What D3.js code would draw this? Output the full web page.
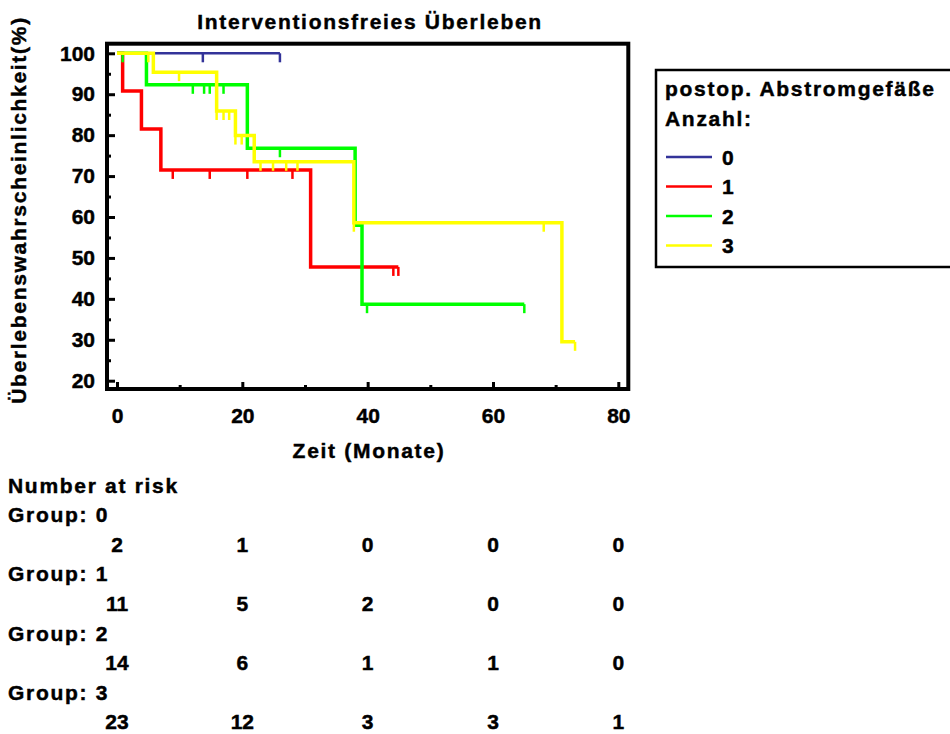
<!DOCTYPE html>
<html>
<head>
<meta charset="utf-8">
<script src="https://cdn.jsdelivr.net/npm/d3@7"></script>
<style>
  body { margin: 0; background: #fff; }
  svg text { font-family: "Liberation Sans", Arial, sans-serif; font-weight: bold; font-size: 21px; letter-spacing: 1.7px; fill: #000; stroke: #000; stroke-width: 0.45px; }
  svg text.num { letter-spacing: 0px; }
</style>
</head>
<body>
<div id="grafKM"></div>
<script>
// Datos de cada grupo (tiempo en meses, supervivencia en %)
const grupos = ['0', '1', '2', '3']
const colores = ['#333399', '#ff0000', '#00ff00', '#ffff00']

const tiempo0 = [0, 26.0]
const surv0   = [100, 100]
const cens0   = [13.7, 26.0]

const tiempo1 = [0, 0.9, 3.9, 7.0, 30.9, 44.9]
const surv1   = [100, 90.8, 81.5, 71.5, 47.8, 47.8]
const cens1   = [8.9, 14.8, 20.8, 28.0, 44.1, 44.9]

const tiempo2 = [0, 4.7, 20.8, 38.0, 39.1, 65.0]
const surv2   = [100, 92.3, 76.8, 58.0, 38.7, 38.7]
const cens2   = [0.9, 12.1, 13.9, 14.8, 17.0, 26.0, 39.9, 65.0]

const tiempo3 = [0, 5.8, 15.9, 18.9, 21.9, 37.8, 71.0, 73.1]
const surv3   = [100, 95.4, 85.9, 79.9, 73.5, 58.6, 29.5, 29.5]
const cens3   = [5.0, 9.9, 15.9, 17.0, 17.9, 18.9, 19.9, 22.9, 24.9, 27.0, 28.8, 37.8, 68.1, 73.1]

// Tabla "Number at risk"
const tiemposRiesgo = [0, 20, 40, 60, 80]
const riesgo0 = [2, 1, 0, 0, 0]
const riesgo1 = [11, 5, 2, 0, 0]
const riesgo2 = [14, 6, 1, 1, 0]
const riesgo3 = [23, 12, 3, 3, 1]

const ticksX = [0, 20, 40, 60, 80]
const ticksY = [20, 30, 40, 50, 60, 70, 80, 90, 100]

const series = [
  { tiempo: tiempo0, surv: surv0, cens: cens0, riesgo: riesgo0 },
  { tiempo: tiempo1, surv: surv1, cens: cens1, riesgo: riesgo1 },
  { tiempo: tiempo2, surv: surv2, cens: cens2, riesgo: riesgo2 },
  { tiempo: tiempo3, surv: surv3, cens: cens3, riesgo: riesgo3 }
]

const ancho = 950, alto = 734
const svg = d3.select('#grafKM').append('svg')
  .attr('width', ancho).attr('height', alto)

// Marco del grafico
const marco = { izq: 107, sup: 43.7, der: 628.3, inf: 389 }

const x = d3.scaleLinear().domain([0, 80]).range([117, 618.3])
const y = d3.scaleLinear().domain([20, 100]).range([380.7, 53.3])

// Ejes con ticks hacia adentro
svg.append('g')
  .attr('transform', `translate(${marco.izq},0)`)
  .call(d3.axisLeft(y).tickValues(ticksY).tickSizeInner(-8).tickSizeOuter(0).tickPadding(12))
  .call(g => g.select('.domain').remove())
  .call(g => g.selectAll('line').attr('stroke', '#000').attr('stroke-width', 3))
  .call(g => g.selectAll('text').attr('class', 'num'))

svg.append('g')
  .attr('transform', `translate(${marco.izq},0)`)
  .call(d3.axisLeft(y).tickValues(d3.range(25, 100, 10)).tickSizeInner(-4).tickSizeOuter(0).tickFormat(''))
  .call(g => g.select('.domain').remove())
  .call(g => g.selectAll('line').attr('stroke', '#000').attr('stroke-width', 3))

svg.append('g')
  .attr('transform', `translate(0,${marco.inf})`)
  .call(d3.axisBottom(x).tickValues(ticksX).tickSizeInner(-7).tickSizeOuter(0).tickPadding(19))
  .call(g => g.select('.domain').remove())
  .call(g => g.selectAll('line').attr('stroke', '#000').attr('stroke-width', 3))
  .call(g => g.selectAll('text').attr('class', 'num'))

svg.append('g')
  .attr('transform', `translate(0,${marco.inf})`)
  .call(d3.axisBottom(x).tickValues(d3.range(10, 80, 20)).tickSizeInner(-4).tickSizeOuter(0).tickFormat(''))
  .call(g => g.select('.domain').remove())
  .call(g => g.selectAll('line').attr('stroke', '#000').attr('stroke-width', 3))

// Curvas Kaplan-Meier
const linea = d3.line()
  .x(d => x(d[0]))
  .y(d => y(d[1]))
  .curve(d3.curveStepAfter)

function survEn(s, t) {
  let i = d3.bisectRight(s.tiempo, t) - 1
  return s.surv[Math.max(i, 0)]
}

series.forEach((s, i) => {
  const g = svg.append('g')
  g.append('path')
    .datum(s.tiempo.map((t, k) => [t, s.surv[k]]))
    .attr('fill', 'none')
    .attr('stroke', colores[i])
    .attr('stroke-width', i === 0 ? 2.5 : 3.5)
    .attr('d', linea)
  // marcas de censura hacia abajo
  g.selectAll('line.cens')
    .data(s.cens)
    .join('line')
    .attr('class', 'cens')
    .attr('x1', d => x(d)).attr('x2', d => x(d))
    .attr('y1', d => y(survEn(s, d)))
    .attr('y2', d => y(survEn(s, d)) + 9)
    .attr('stroke', colores[i])
    .attr('stroke-width', 2.5)
})

// Marco encima
svg.append('rect')
  .attr('x', marco.izq).attr('y', marco.sup)
  .attr('width', marco.der - marco.izq).attr('height', marco.inf - marco.sup)
  .attr('fill', 'none').attr('stroke', '#000').attr('stroke-width', 4)

/******** TITULOS Y ETIQUETAS *************/
svg.append('text').attr('x', 370).attr('y', 29).attr('text-anchor', 'middle')
  .text('Interventionsfreies Überleben')
svg.append('text').attr('x', 369).attr('y', 458).attr('text-anchor', 'middle')
  .text('Zeit (Monate)')
svg.append('text')
  .attr('transform', 'translate(26,210) rotate(-90)')
  .attr('text-anchor', 'middle')
  .text('Überlebenswahrscheinlichkeit(%)')

// Leyenda
const ley = svg.append('g')
ley.append('rect')
  .attr('x', 656).attr('y', 70).attr('width', 320).attr('height', 197)
  .attr('fill', 'none').attr('stroke', '#000').attr('stroke-width', 2.5)
ley.append('text').attr('x', 665).attr('y', 96).text('postop. Abstromgefäße')
ley.append('text').attr('x', 665).attr('y', 126).text('Anzahl:')
grupos.forEach((gr, i) => {
  const yl = 157 + i * 29.5
  ley.append('line')
    .attr('x1', 666).attr('x2', 712).attr('y1', yl).attr('y2', yl)
    .attr('stroke', colores[i]).attr('stroke-width', 2.5)
  ley.append('text').attr('class', 'num').attr('x', 722).attr('y', yl + 7.5).text(gr)
})

// Tabla Number at risk
const fila0 = 492.5, paso = 29.6
svg.append('text').attr('x', 8).attr('y', fila0).text('Number at risk')
series.forEach((s, i) => {
  svg.append('text').attr('x', 8).attr('y', fila0 + paso * (1 + 2 * i)).text('Group: ' + grupos[i])
  svg.append('g').selectAll('text')
    .data(s.riesgo)
    .join('text')
    .attr('class', 'num')
    .attr('x', (d, k) => x(tiemposRiesgo[k]))
    .attr('y', fila0 + paso * (2 + 2 * i))
    .attr('text-anchor', 'middle')
    .text(d => d)
})
</script>
</body>
</html>
